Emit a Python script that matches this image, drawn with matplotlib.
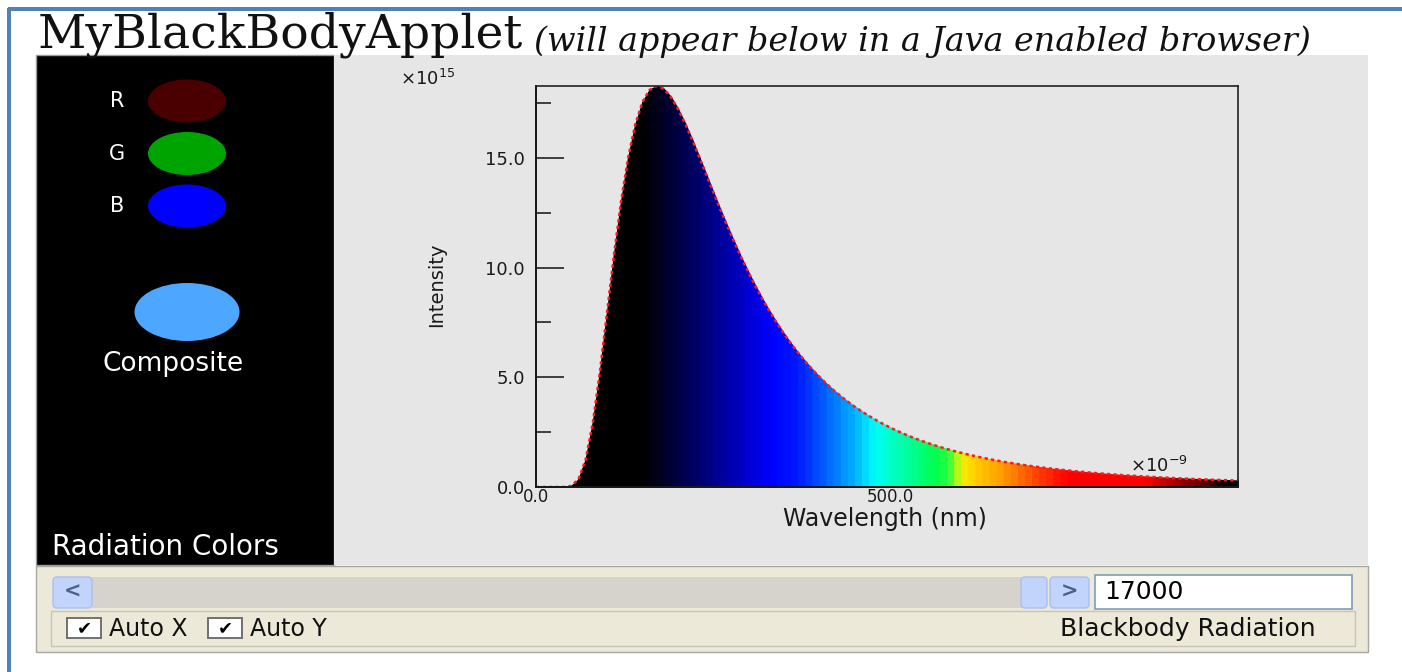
import matplotlib.pyplot as plt
from matplotlib.colors import LinearSegmentedColormap
from matplotlib.patches import Ellipse, FancyBboxPatch, Rectangle

# ==========================================
# DATA (T = 17000 K)
# ==========================================
temperature = "17000"

wavelength_nm = [
    0, 10, 20, 30, 40, 50, 60, 70, 80, 90,
    100, 110, 120, 130, 140, 150, 160, 170, 180, 190,
    200, 210, 220, 230, 240, 250, 260, 270, 280, 290,
    300, 310, 320, 330, 340, 350, 360, 370, 380, 390,
    400, 410, 420, 430, 440, 450, 460, 470, 480, 490,
    500, 510, 520, 530, 540, 550, 560, 570, 580, 590,
    600, 610, 620, 630, 640, 650, 660, 670, 680, 690,
    700, 710, 720, 730, 740, 750, 760, 770, 780, 790,
    800, 810, 820, 830, 840, 850, 860, 870, 880, 890,
    900, 910, 920, 930, 940, 950, 960, 970, 980, 990,
]

# intensity in units of 1e15
intensity = [
    0.0, 0.0, 0.0, 0.0, 0.002, 0.053, 0.360, 1.249, 2.906, 5.221,
    7.898, 10.589, 13.016, 15.017, 16.519, 17.529, 18.089, 18.269, 18.141, 17.776,
    17.236, 16.576, 15.835, 15.046, 14.238, 13.431, 12.636, 11.864, 11.123, 10.417,
    9.748, 9.116, 8.525, 7.970, 7.451, 6.968, 6.517, 6.097, 5.708, 5.345,
    5.007, 4.694, 4.404, 4.133, 3.882, 3.648, 3.430, 3.228, 3.040, 2.864,
    2.700, 2.548, 2.405, 2.272, 2.148, 2.032, 1.923, 1.822, 1.726, 1.637,
    1.553, 1.474, 1.401, 1.331, 1.266, 1.205, 1.147, 1.093, 1.041, 0.993,
    0.947, 0.904, 0.863, 0.825, 0.789, 0.754, 0.722, 0.691, 0.661, 0.634,
    0.607, 0.582, 0.559, 0.536, 0.515, 0.494, 0.475, 0.456, 0.439, 0.422,
    0.406, 0.391, 0.376, 0.362, 0.349, 0.336, 0.324, 0.313, 0.302, 0.291,
]

x_ticks = [0, 500]
x_tick_labels = ["0.0", "500.0"]
y_major = [0, 5, 10, 15]
y_minor = [2.5, 7.5, 12.5, 17.5]

rgb_labels = ["R", "G", "B"]
rgb_colors = ["#4a0000", "#00a400", "#0000ff"]
composite_color = "#4da6ff"

# colour of each wavelength strip (applet's own spectrum map)
spectrum_stops = [
    (0, "#000000"), (150, "#000000"), (230, "#00006e"), (330, "#0000ff"),
    (370, "#0018ff"), (400, "#0050ff"), (435, "#0096ff"), (460, "#00c8ff"),
    (478, "#00ffff"), (500, "#00ffc8"), (527, "#00ff96"), (563, "#00ff50"),
    (580, "#20ff40"), (592, "#96ff1e"), (605, "#ffe600"), (625, "#ffc800"),
    (655, "#ffa000"), (683, "#ff6e00"), (711, "#ff3c00"), (750, "#ff0000"),
    (860, "#ff0000"), (905, "#a00000"), (950, "#500000"), (975, "#000000"),
    (1000, "#000000"),
]

W, H = 1402, 672
PT = 0.72  # points per pixel at dpi 100
UI_FONT = ["DejaVu Sans"]
INK = "#1a1a1a"


def px_box(x0, y0, x1, y1):
    """figure fraction box from pixel corners (y measured downwards)"""
    return [x0 / W, 1 - y1 / H, (x1 - x0) / W, (y1 - y0) / H]


fig = plt.figure(figsize=(W / 100, H / 100), dpi=100, facecolor="white")

# background layer in pixel coordinates
bg = fig.add_axes([0, 0, 1, 1])
bg.set_xlim(0, W)
bg.set_ylim(H, 0)
bg.axis("off")

# page frame
bg.plot([8, W], [9, 9], color="#4f81bd", lw=4 * PT, solid_capstyle="butt")
bg.plot([9, 9], [8, H], color="#4f81bd", lw=4 * PT, solid_capstyle="butt")

# page heading
title = bg.text(38, 48, "MyBlackBodyApplet", family="DejaVu Serif",
                fontsize=34, va="baseline", ha="left", color="#111111")
bg.annotate("(will appear below in a Java enabled browser)", xy=(1, 0),
            xycoords=title, xytext=(8, 0), textcoords="offset points",
            family="DejaVu Serif", style="italic", fontsize=24,
            va="bottom", ha="left", color="#111111")

# applet panels
bg.add_patch(Rectangle((36, 55), 298, 510, fc="black", ec="#9a9a9a", lw=1))
bg.add_patch(Rectangle((334, 55), 1034, 510, fc="#e6e6e6", ec="none"))
bg.add_patch(Rectangle((36, 566), 1332, 86, fc="#ece9d8", ec="#a8a8a0", lw=1))

# radiation colours panel
for i, (lab, col) in enumerate(zip(rgb_labels, rgb_colors)):
    cy = 101 + i * 52.5
    bg.add_patch(Ellipse((187, cy), 78, 43, fc=col, ec="none"))
    bg.text(117, cy, lab, color="white", fontsize=15, family=UI_FONT,
            ha="center", va="center")
bg.add_patch(Ellipse((187, 312), 105, 58, fc=composite_color, ec="none"))
bg.text(173, 364, "Composite", color="white", fontsize=19, family=UI_FONT,
        ha="center", va="center")
bg.text(52, 547, "Radiation Colors", color="white", fontsize=20,
        family=UI_FONT, ha="left", va="center")

# scrollbar row
bg.add_patch(Rectangle((92, 577), 930, 31, fc="#d6d3cc", ec="none"))
for x0, arrow in [(53, "<"), (1050, ">")]:
    bg.add_patch(FancyBboxPatch((x0, 577), 39, 31, boxstyle="round,pad=0,rounding_size=4",
                                fc="#c3d4fc", ec="#aabff0", lw=1))
    bg.text(x0 + 19.5, 592, arrow, color="#4d6185", fontsize=15, weight="bold",
            family=UI_FONT, ha="center", va="center")
bg.add_patch(FancyBboxPatch((1021, 577), 26, 31, boxstyle="round,pad=0,rounding_size=4",
                            fc="#c3d4fc", ec="#aabff0", lw=1))
bg.add_patch(Rectangle((1095, 575), 257, 34, fc="white", ec="#7f9db9", lw=1.2))
bg.text(1104, 592, temperature, color="black", fontsize=18, family=UI_FONT,
        ha="left", va="center")

# option row
bg.add_patch(Rectangle((51, 611), 1304, 35, fc="none", ec="#c8c5b8", lw=1))
for x0, lab in [(67, "Auto X"), (208, "Auto Y")]:
    bg.add_patch(Rectangle((x0, 618), 34, 20, fc="white", ec="#707070", lw=1.4))
    bg.text(x0 + 17, 628, "\u2714", color="black", fontsize=13, family=UI_FONT,
            ha="center", va="center")
    bg.text(x0 + 42, 629, lab, color="#111111", fontsize=17, family=UI_FONT,
            ha="left", va="center")
bg.text(1316, 629, "Blackbody Radiation", color="#111111", fontsize=18,
        family=UI_FONT, ha="right", va="center")

# ==========================================
# SPECTRUM PLOT
# ==========================================
ax = fig.add_axes(px_box(536, 86, 1238, 487))
ax.set_facecolor("#e6e6e6")
ax.set_xlim(wavelength_nm[0], wavelength_nm[-1])
ax.set_ylim(0, max(intensity))

cmap = LinearSegmentedColormap.from_list(
    "applet_spectrum",
    [(w / spectrum_stops[-1][0], c) for w, c in spectrum_stops])

# one coloured strip per wavelength step; an edge in the same colour closes
# the hairline gaps between neighbouring strips
for i in range(len(wavelength_nm) - 1):
    xs = wavelength_nm[i:i + 2]
    ys = intensity[i:i + 2]
    col = cmap((xs[0] + xs[1]) / 2 / spectrum_stops[-1][0])
    ax.fill_between(xs, 0, ys, facecolor=col, edgecolor=col, lw=1.0)

ax.plot(wavelength_nm, intensity, color="#ff1a1a", lw=1.8,
        linestyle=(0, (1.3, 1.3)), zorder=5)

for side in ["left", "bottom"]:
    ax.spines[side].set_linewidth(2 * PT)
for side in ["top", "right"]:
    ax.spines[side].set_linewidth(1.6 * PT)
for sp in ax.spines.values():
    sp.set_color(INK)
    sp.set_zorder(6)

ax.set_yticks(y_major)
ax.set_yticks(y_minor, minor=True)
ax.set_yticklabels([f"{v:.1f}" for v in y_major])
ax.tick_params(axis="y", which="major", direction="in", length=28 * PT,
               width=1.6 * PT, pad=11 * PT, labelsize=13, color=INK)
ax.tick_params(axis="y", which="minor", direction="in", length=15 * PT,
               width=1.6 * PT, color=INK)
ax.set_xticks(x_ticks)
ax.set_xticklabels(x_tick_labels)
ax.tick_params(axis="x", length=0, pad=0.5, labelsize=12)
for lab in ax.get_xticklabels() + ax.get_yticklabels():
    lab.set_family(UI_FONT)
    lab.set_color(INK)

# axis titles and scale multipliers, placed as the applet does
bg.text(437, 285, "Intensity", rotation=90, fontsize=14, family=UI_FONT,
        ha="center", va="center", color=INK)
bg.text(885, 519, "Wavelength (nm)", fontsize=17, family=UI_FONT,
        ha="center", va="center", color=INK)
bg.text(400, 79, r"$\mathregular{\times10^{15}}$", fontsize=13,
        family=UI_FONT, ha="left", va="center", color=INK)
fig.text(1130 / W, 1 - 466 / H, r"$\mathregular{\times10^{-9}}$", fontsize=13,
         family=UI_FONT, ha="left", va="center", color=INK, zorder=10)

fig.savefig("out.png", dpi=100, facecolor="white")
